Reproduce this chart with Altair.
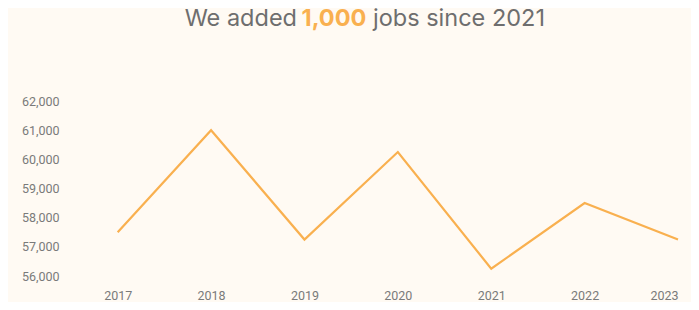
import altair as alt
import pandas as pd

years = [2017, 2018, 2019, 2020, 2021, 2022, 2023]
jobs = [57500, 61000, 57250, 60250, 56250, 58500, 57250]

title_parts = ["We added ", "1,000", " jobs since 2021"]

df = pd.DataFrame({"year": years, "jobs": jobs})

BG = "#fffaf3"
ORANGE = "#f9b04f"
GREY = "#6e6e6e"

line = alt.Chart(df).mark_line(color=ORANGE, strokeWidth=2.2).encode(
    x=alt.X("year:Q", scale=alt.Scale(domain=[2016.5, 2023], nice=False, zero=False),
            axis=alt.Axis(values=years, format="d", title=None, grid=False, domain=False,
                          ticks=False, labelPadding=13, labelFontSize=12.5,
                          labelColor="#7a7a7a", labelFont="Roboto")),
    y=alt.Y("jobs:Q", scale=alt.Scale(domain=[56000, 62000], nice=False, zero=False),
            axis=alt.Axis(values=[56000, 57000, 58000, 59000, 60000, 61000, 62000],
                          format=",d", title=None, grid=False, domain=False, ticks=False,
                          labelPadding=12, labelFontSize=12.5, labelColor="#7a7a7a",
                          labelFont="Roboto")),
)

FS = 23.5
TY = -75

t_left = alt.Chart(pd.DataFrame({"t": [title_parts[0]]})).mark_text(
    align="right", baseline="alphabetic", font="Inter", fontSize=FS, color=GREY
).encode(text="t:N", x=alt.value(226), y=alt.value(TY))

t_mid = alt.Chart(pd.DataFrame({"t": [title_parts[1]]})).mark_text(
    align="center", baseline="alphabetic", font="Inter", fontSize=FS, fontWeight="bold",
    color=ORANGE
).encode(text="t:N", x=alt.value(263), y=alt.value(TY))

t_right = alt.Chart(pd.DataFrame({"t": [title_parts[2]]})).mark_text(
    align="left", baseline="alphabetic", font="Inter", fontSize=FS, color=GREY
).encode(text="t:N", x=alt.value(302), y=alt.value(TY))

chart = alt.layer(line, t_left, t_mid, t_right).properties(
    width=607, height=175, background=BG,
    autosize=alt.AutoSizeParams(type="none"),
    padding={"left": 63, "top": 93, "right": 13, "bottom": 26}
).configure_view(stroke=None)

chart.save("out.html", embed_options={"renderer": "svg", "actions": False})
